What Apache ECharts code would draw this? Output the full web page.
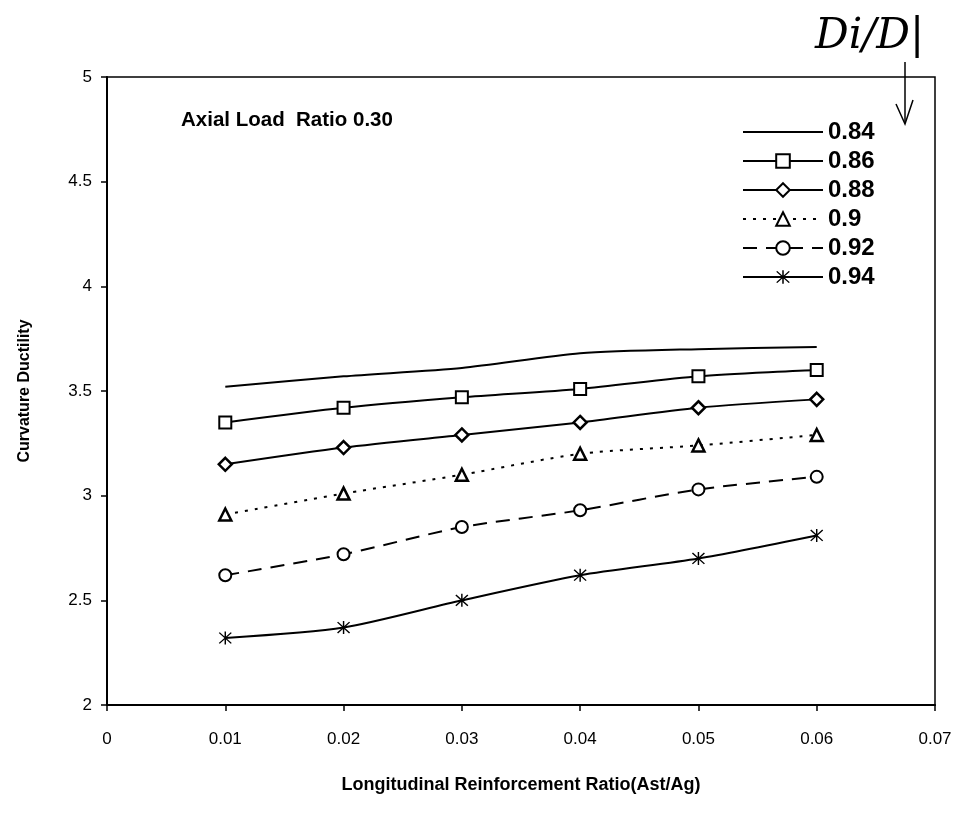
<!DOCTYPE html>
<html>
<head>
<meta charset="utf-8">
<script src="https://cdn.jsdelivr.net/npm/echarts@6/dist/echarts.min.js"></script>
<style>
  html, body { margin: 0; padding: 0; background: #fff; }
  #chart { width: 975px; height: 824px; }
</style>
</head>
<body>
<div id="chart"></div>
<script>
// Longitudinal reinforcement ratio (Ast/Ag)
const steelRatio = [0.01, 0.02, 0.03, 0.04, 0.05, 0.06];

// Curvature ductility for each Di/D ratio
const seriesNames = ['0.84', '0.86', '0.88', '0.9', '0.92', '0.94'];
const duct084 = [3.52, 3.57, 3.61, 3.68, 3.70, 3.71];
const duct086 = [3.35, 3.42, 3.47, 3.51, 3.57, 3.60];
const duct088 = [3.15, 3.23, 3.29, 3.35, 3.42, 3.46];
const duct090 = [2.91, 3.01, 3.10, 3.20, 3.24, 3.29];
const duct092 = [2.62, 2.72, 2.85, 2.93, 3.03, 3.09];
const duct094 = [2.32, 2.37, 2.50, 2.62, 2.70, 2.81];

const xTicks = ['0', '0.01', '0.02', '0.03', '0.04', '0.05', '0.06', '0.07'];
const yTicks = ['2', '2.5', '3', '3.5', '4', '4.5', '5'];

const FONT = '"Liberation Sans", Arial, sans-serif';
// asterisk marker: one vertical bar and two diagonal bars
const asterisk = 'path://M9,0h2v20h-2z M1,2.4l1.4,-1.4l16.6,16.6l-1.4,1.4z M17.6,1l1.4,1.4l-16.6,16.6l-1.4,-1.4z';

function pairs(ys) { return steelRatio.map((x, i) => [x, ys[i]]); }

function makeSeries(name, ys, symbol, lineType, symbolStyle, symbolSize) {
  return {
    name: name,
    type: 'line',
    data: pairs(ys),
    smooth: 0.25,
    symbol: symbol,
    symbolSize: symbolSize,
    showSymbol: symbol !== 'none',
    lineStyle: { color: '#000', width: 2, type: lineType },
    itemStyle: Object.assign({ color: '#fff', borderColor: '#000', borderWidth: 2 }, symbolStyle),
    emphasis: { disabled: true },
    z: 3
  };
}

const legendItems = seriesNames.map((n, i) =>
  i === 0 ? { name: n, itemStyle: { opacity: 0 } } : { name: n });

const chart = echarts.init(document.getElementById('chart'), null, { renderer: 'canvas' });
chart.setOption({
  animation: false,
  backgroundColor: '#fff',
  grid: {
    left: 107, right: 40, top: 77, bottom: 119,
    show: true, borderColor: '#000', borderWidth: 1.5, backgroundColor: 'transparent'
  },
  title: {
    text: 'Axial Load  Ratio 0.30',
    left: 176, top: 105,
    textStyle: { fontFamily: FONT, fontWeight: 'bold', fontSize: 20.5, color: '#000' }
  },
  legend: {
    orient: 'vertical',
    left: 737, top: 115,
    itemWidth: 80, itemHeight: 17, itemGap: 5,
    textStyle: { fontFamily: FONT, fontWeight: 'bold', fontSize: 24, color: '#000', padding: [0, 0, 0, 0] },
    data: legendItems
  },
  xAxis: {
    type: 'value',
    min: 0, max: 0.07, interval: 0.01,
    name: 'Longitudinal Reinforcement Ratio(Ast/Ag)',
    nameLocation: 'middle', nameGap: 71,
    nameTextStyle: { fontFamily: FONT, fontWeight: 'bold', fontSize: 18, color: '#000' },
    axisLine: { show: true, lineStyle: { color: '#000', width: 2 } },
    axisTick: { show: true, length: 6, lineStyle: { color: '#000', width: 1.5 } },
    axisLabel: {
      margin: 26, color: '#000', fontFamily: FONT, fontSize: 17,
      formatter: (v) => xTicks[Math.round(v * 100)]
    },
    splitLine: { show: false }
  },
  yAxis: {
    type: 'value',
    min: 2, max: 5, interval: 0.5,
    name: 'Curvature Ductility',
    nameLocation: 'middle', nameGap: 74,
    nameTextStyle: { fontFamily: FONT, fontWeight: 'bold', fontSize: 16, color: '#000' },
    axisLine: { show: true, lineStyle: { color: '#000', width: 2 } },
    axisTick: { show: true, length: 6, lineStyle: { color: '#000', width: 1.5 } },
    axisLabel: {
      margin: 15, color: '#000', fontFamily: FONT, fontSize: 17,
      formatter: (v) => yTicks[Math.round((v - 2) * 2)]
    },
    splitLine: { show: false }
  },
  graphic: [
    {
      type: 'text', left: 815, top: 16,
      style: { text: 'Di/D|', fontFamily: '"DejaVu Serif", serif', fontStyle: 'italic', fontWeight: 'lighter', fontSize: 42, fill: '#000' }
    },
    {
      type: 'line',
      shape: { x1: 905, y1: 62, x2: 905, y2: 122 },
      style: { stroke: '#000', lineWidth: 1.5 }
    },
    {
      type: 'polyline',
      shape: { points: [[896, 104], [905, 124], [913, 100]] },
      style: { stroke: '#000', lineWidth: 1.5, fill: null }
    }
  ],
  series: [
    makeSeries(seriesNames[0], duct084, 'none', 'solid', {}, 0),
    makeSeries(seriesNames[1], duct086, 'rect', 'solid', {}, 12),
    makeSeries(seriesNames[2], duct088, 'diamond', 'solid', { borderWidth: 2.5 }, 13),
    makeSeries(seriesNames[3], duct090, 'triangle', [3, 7], { borderWidth: 2.5 }, 12),
    makeSeries(seriesNames[4], duct092, 'circle', [14, 9], {}, 12),
    makeSeries(seriesNames[5], duct094, asterisk, 'solid', { color: '#000', borderWidth: 0 }, 13)
  ]
});
</script>
</body>
</html>
